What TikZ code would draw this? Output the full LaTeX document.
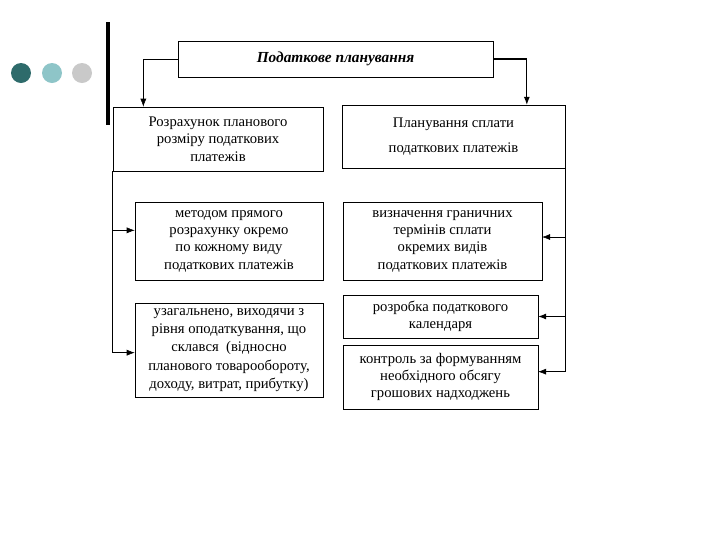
\documentclass[tikz,border=0pt]{standalone}
\usepackage{fontspec}
\setmainfont{Liberation Serif}
\usetikzlibrary{arrows, arrows.meta}
\tikzset{>={Latex[length=6pt,width=4.5pt]}}
\definecolor{dotdark}{HTML}{2E6B6B}
\definecolor{dotlight}{HTML}{8EC5C8}
\definecolor{dotgrey}{HTML}{C9C9C9}
\tikzset{
  box/.style={draw, rectangle, align=center, inner sep=2pt,
    font=\fontsize{11}{13}\selectfont},
  rail/.style={draw, ->}
}
\begin{document}
\begin{tikzpicture}[x=0.75pt,y=-0.75pt]
\useasboundingbox (0,0) rectangle (720,540);

% bullets and bar
\fill[dotdark]  (21,73) circle [radius=7.5pt];
\fill[dotlight] (52,73) circle [radius=7.5pt];
\fill[dotgrey]  (82,73) circle [radius=7.5pt];
\draw[line width=3pt] (108,22) -- (108,125);

\node[box, minimum width=236pt, minimum height=27pt,
  font=\fontsize{11.5}{13}\selectfont\bfseries\itshape] (title) at (335.5,59) {Податкове планування};

\node[box, minimum width=157.5pt, minimum height=48pt] (plan) at (218,139)
  {Розрахунок планового\\розміру податкових\\платежів};
\node[box, minimum width=167pt, minimum height=47pt] (pay) at (453.5,136.5)
  {Планування сплати\\[6pt]податкових платежів};

\node[box, minimum width=141pt, minimum height=58.5pt] (direct) at (229,241)
  {методом прямого\\розрахунку окремо\\по кожному виду\\податкових платежів};
\node[box, minimum width=141pt, minimum height=70.5pt,
  font=\fontsize{11}{13.6}\selectfont] (general) at (229,350)
  {узагальнено, виходячи з\\рівня оподаткування, що\\склався\ \ (відносно\\планового товарообороту,\\доходу, витрат, прибутку)};

\node[box, minimum width=149pt, minimum height=58.5pt] (terms) at (442.5,241)
  {визначення граничних\\термінів сплати\\окремих видів\\податкових платежів};
\node[box, minimum width=146pt, minimum height=32pt] (calendar) at (440.5,316.5)
  {розробка податкового\\календаря};
\node[box, minimum width=146pt, minimum height=48pt] (control) at (440.5,377)
  {контроль за формуванням\\необхідного обсягу\\грошових надходжень};

% connectors from the title
\draw[rail] (title.west) -| ([xshift=-56pt]plan.north);
\draw[rail, thick] (title.east) -| ([xshift=55pt]pay.north);

% left rail
\draw[rail] (plan.south west) |- ([yshift=8pt]direct.west);
\draw[rail] (plan.south west) |- ([yshift=-2pt]general.west);

% right rail
\draw[rail] (pay.south east) |- ([yshift=3pt]terms.east);
\draw[rail] (pay.south east) |- ([yshift=4pt]control.east);
\draw[rail, thick] (pay.south east |- calendar.east) -- (calendar.east);
\end{tikzpicture}
\end{document}
